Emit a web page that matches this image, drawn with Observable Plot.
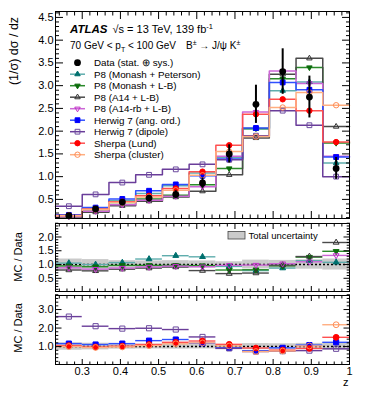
<!DOCTYPE html>
<html><head><meta charset="utf-8">
<script src="https://cdn.jsdelivr.net/npm/d3@7"></script>
<script src="https://cdn.jsdelivr.net/npm/@observablehq/plot@0.6"></script>
<style>
html,body{margin:0;padding:0;background:#fff;}
#wrap{position:relative;width:368px;height:394px;overflow:hidden;background:#fff;font-family:"Liberation Sans",Arial,Helvetica,sans-serif;color:#000;}
#wrap svg{position:absolute;left:0;overflow:visible;}
.ytitle{position:absolute;white-space:nowrap;transform:translate(-50%,-50%) rotate(-90deg);line-height:1;}
</style></head><body><div id="wrap"></div>
<script>
// ---------------- data ----------------
const binEdges   = [0.23,0.30,0.37,0.44,0.51,0.58,0.65,0.72,0.79,0.86,0.93,1.00];
const binCenters = [0.265,0.335,0.405,0.475,0.545,0.615,0.685,0.755,0.825,0.895,0.965];

const dataValues = [0.14,0.29,0.44,0.53,0.61,0.86,1.50,2.59,3.31,2.75,1.18];
const dataErrors = [0.03,0.04,0.05,0.06,0.08,0.11,0.20,0.42,0.50,0.46,0.24];

const p8MonashPeterson = [0.15,0.29,0.47,0.63,0.80,1.08,1.42,2.05,2.89,3.08,1.30];
const p8MonashLB       = [0.135,0.27,0.43,0.51,0.59,0.82,1.18,2.06,3.15,3.40,1.74];
const p8A14LB          = [0.115,0.22,0.36,0.46,0.55,0.68,1.04,1.85,3.25,3.60,2.10];
const p8A14rbLB        = [0.125,0.24,0.38,0.48,0.57,0.78,1.45,2.42,3.32,3.05,1.45];
const herwigAngOrd     = [0.16,0.32,0.51,0.69,0.83,1.02,1.39,2.07,3.07,2.91,1.43];
const herwigDipole     = [0.35,0.61,0.87,1.04,1.16,1.27,1.37,1.90,2.45,2.13,1.00];
const sherpaLund       = [0.145,0.29,0.45,0.58,0.74,1.11,1.69,2.37,2.70,2.45,1.76];
const sherpaCluster    = [0.14,0.28,0.43,0.55,0.70,1.03,1.55,1.88,2.52,2.85,2.57];

// MC / Data ratios as drawn in the lower panels
const rP8MonashPeterson = [1.05,1.00,1.07,1.20,1.32,1.28,0.93,0.78,0.87,1.14,1.08];
const rP8MonashLB       = [0.95,0.92,0.97,0.97,0.97,0.96,0.80,0.81,0.95,1.27,1.48];
const rP8A14LB          = [0.80,0.77,0.83,0.87,0.91,0.78,0.67,0.69,0.98,1.29,1.80];
const rP8A14rbLB        = [0.88,0.83,0.87,0.91,0.94,0.92,0.97,0.98,1.03,1.10,1.33];
const rHerwigAngOrd     = [1.16,1.11,1.16,1.32,1.38,1.18,0.93,0.78,0.93,1.08,1.23];
const rHerwigDipole     = [2.62,2.10,1.97,1.99,1.92,1.52,0.90,0.73,0.75,0.78,0.88];
const rSherpaLund       = [1.05,0.98,1.02,1.11,1.23,1.30,1.12,0.92,0.81,0.90,1.50];
const rSherpaCluster    = [1.00,0.95,0.98,1.05,1.15,1.20,1.03,0.73,0.76,1.03,2.18];
const totalUncertainty  = [0.20,0.18,0.14,0.13,0.14,0.13,0.10,0.16,0.15,0.17,0.20];

const seriesNames = ["P8 (Monash + Peterson)","P8 (Monash + L-B)","P8 (A14 + L-B)","P8 (A14-rb + L-B)",
                     "Herwig 7 (ang. ord.)","Herwig 7 (dipole)","Sherpa (Lund)","Sherpa (cluster)"];
const xTickValues   = [0.3,0.4,0.5,0.6,0.7,0.8,0.9,1];
const topYTicks     = [0.5,1,1.5,2,2.5,3,3.5,4,4.5];
const midYTicks     = [0.5,1,1.5,2];
const lowYTicks     = [1,2,3];

// ---------------- styles ----------------
const FONT = '"Liberation Sans", Arial, Helvetica, sans-serif';
const seriesValues = [p8MonashPeterson,p8MonashLB,p8A14LB,p8A14rbLB,herwigAngOrd,herwigDipole,sherpaLund,sherpaCluster];
const seriesRatios = [rP8MonashPeterson,rP8MonashLB,rP8A14LB,rP8A14rbLB,rHerwigAngOrd,rHerwigDipole,rSherpaLund,rSherpaCluster];
const seriesStyle = [
  {symbol:"triangle", filled:true,  rotate:0,   color:"#00706e", line:"#5fadad"},
  {symbol:"triangle", filled:true,  rotate:180, color:"#0b6b0b", line:"#2a8a2a"},
  {symbol:"triangle", filled:false, rotate:0,   color:"#333333", line:"#4a4a4a"},
  {symbol:"triangle", filled:false, rotate:180, color:"#c030c8", line:"#cc66d6"},
  {symbol:"square",   filled:true,  rotate:0,   color:"#0000ff", line:"#3050ff"},
  {symbol:"square",   filled:false, rotate:0,   color:"#6b4a9e", line:"#6a3d9a"},
  {symbol:"circle",   filled:true,  rotate:0,   color:"#ff0000", line:"#ff5050"},
  {symbol:"circle",   filled:false, rotate:0,   color:"#ff8c55", line:"#ffae80"}
];
const series = seriesNames.map((name,i) => ({name, values: seriesValues[i], ratios: seriesRatios[i], ...seriesStyle[i]}));
const markerR = (s, base) => s.symbol === "triangle" ? base * 0.75 : base;

const W = 368, ML = 55, MR = 19;
const xDomain = [binEdges[0], binEdges[binEdges.length-1]];

function stepData(vals){
  const pts = vals.map((v,i) => ({x: binEdges[i], y: v}));
  pts.push({x: binEdges[binEdges.length-1], y: vals[vals.length-1]});
  return pts;
}
function pointData(vals){
  return vals.map((v,i) => ({x: binCenters[i], y: v, lo: binEdges[i], hi: binEdges[i+1]}));
}
function minorTicks(major, step, lo, hi){
  return d3.range(Math.round(lo/step), Math.round(hi/step)+1)
    .map(i => +(i*step).toFixed(4))
    .filter(v => !major.some(m => Math.abs(m-v) < 1e-6));
}
const xMinor = minorTicks(xTickValues, 0.02, 0.24, 0.98);

function frameTicks(yMajor, yMinor, yMaj, yMin, xMaj, xMin){
  const none = () => "";
  const c = {label: null, tickFormat: none, stroke: "#000"};
  return [
    Plot.axisY({...c, anchor:"left",  ticks: yMajor, tickSize: yMaj, insetLeft: yMaj}),
    Plot.axisY({...c, anchor:"left",  ticks: yMinor, tickSize: yMin, insetLeft: yMin}),
    Plot.axisY({...c, anchor:"right", ticks: yMajor, tickSize: yMaj, insetRight: yMaj}),
    Plot.axisY({...c, anchor:"right", ticks: yMinor, tickSize: yMin, insetRight: yMin}),
    Plot.axisX({...c, anchor:"bottom", ticks: xTickValues, tickSize: xMaj, insetBottom: xMaj}),
    Plot.axisX({...c, anchor:"bottom", ticks: xMinor, tickSize: xMin, insetBottom: xMin}),
    Plot.axisX({...c, anchor:"top", ticks: xTickValues, tickSize: xMaj, insetTop: xMaj}),
    Plot.axisX({...c, anchor:"top", ticks: xMinor, tickSize: xMin, insetTop: xMin}),
    Plot.axisY({anchor:"left", ticks: yMajor, tickSize: 0, tickPadding: 2, label: null, fontSize: 11}),
    Plot.frame({stroke: "#000", strokeWidth: 1})
  ];
}
function cleanup(svg){
  d3.select(svg).selectAll("text").filter(function(){ return this.textContent === ""; }).remove();
  return svg;
}
const plotStyle = {fontFamily: FONT, fontSize: "11px", background: "transparent", color: "#000"};

// ---------------- top panel ----------------
const topMarks = [];
series.forEach(s => topMarks.push(Plot.line(stepData(s.values), {x:"x", y:"y", curve:"step-after", stroke: s.line, strokeWidth: 1.5})));
series.forEach(s => topMarks.push(Plot.dot(pointData(s.values), {x:"x", y:"y", symbol: s.symbol, r: markerR(s, 2.7), rotate: s.rotate,
  fill: s.filled ? s.color : "none", stroke: s.color, strokeWidth: 1})));
const dataPts = dataValues.map((v,i) => ({x: binCenters[i], y: v, y1: v - dataErrors[i], y2: v + dataErrors[i]}));
topMarks.push(Plot.ruleX(dataPts, {x:"x", y1:"y1", y2:"y2", stroke:"#000", strokeWidth: 2}));
topMarks.push(Plot.dot(dataPts, {x:"x", y:"y", r: 3.4, fill:"#000", stroke:"none"}));

const topPlot = cleanup(Plot.plot({
  width: W, height: 222, marginLeft: ML, marginRight: MR, marginTop: 11, marginBottom: 4,
  x: {domain: xDomain, label: null}, y: {domain: [0.08, 4.63], label: null},
  style: plotStyle,
  marks: [...topMarks, ...frameTicks(topYTicks, minorTicks(topYTicks, 0.1, 0.1, 4.6), 8, 4, 7, 3.5)]
}));
topPlot.style.top = "0px";
document.getElementById("wrap").appendChild(topPlot);

// ---------------- ratio panels ----------------
function ratioPlot(list, domain, yTicks, yMinorStep, top, height, marginBottom, showX){
  const marks = [];
  const band = totalUncertainty.map((u,i) => ({lo: binEdges[i], hi: binEdges[i+1], y1: 1-u, y2: 1+u}));
  marks.push(Plot.rectY(band, {x1:"lo", x2:"hi", y1:"y1", y2:"y2", fill:"#cacaca", stroke:"none"}));
  marks.push(Plot.ruleY([1], {stroke:"#000", strokeWidth: 1.6, strokeDasharray: "2,2"}));
  list.forEach(s => marks.push(Plot.ruleY(pointData(s.ratios), {y:"y", x1:"lo", x2:"hi", stroke: s.line, strokeWidth: 1.4})));
  list.forEach(s => marks.push(Plot.dot(pointData(s.ratios), {x:"x", y:"y", symbol: s.symbol, r: markerR(s, 2.9), rotate: s.rotate,
    fill: s.filled ? s.color : "none", stroke: s.color, strokeWidth: 1})));
  marks.push(...frameTicks(yTicks, minorTicks(yTicks, yMinorStep, yMinorStep, domain[1]), 6.5, 3.3, 5, 2.5));
  if (showX) marks.push(Plot.axisX({anchor:"bottom", ticks: xTickValues, tickSize: 0, tickPadding: 3, label: null, fontSize: 11,
    tickFormat: d => d === 1 ? "1" : d3.format(".1f")(d)}));
  const p = cleanup(Plot.plot({
    width: W, height, marginLeft: ML, marginRight: MR, marginTop: 4, marginBottom,
    x: {domain: xDomain, label: null}, y: {domain, label: null},
    style: plotStyle, marks
  }));
  p.style.top = top + "px";
  document.getElementById("wrap").appendChild(p);
  return p;
}
const midPlot = ratioPlot(series.slice(0,4), [0.02, 2.49], midYTicks, 0.1, 219, 76, 4, false);
const lowPlot = ratioPlot(series.slice(4), [0.03, 3.76], lowYTicks, 0.2, 291, 103, 30, true);

// ---------------- annotations ----------------
const ts = d3.select(topPlot).append("g").attr("font-family", FONT).attr("fill", "#000").attr("text-anchor", "start");
const l1 = ts.append("text").attr("x", 70).attr("y", 33).attr("font-size", 11.5);
l1.append("tspan").attr("font-weight", "bold").attr("font-style", "italic").text("ATLAS");
l1.append("tspan").attr("dx", 5).attr("font-size", 11).text("√s = 13 TeV, 139 fb");
l1.append("tspan").attr("dy", -4).attr("font-size", 7.5).text("-1");
const l2 = ts.append("text").attr("x", 70).attr("y", 48.5).attr("font-size", 10);
l2.append("tspan").text("70 GeV < p");
l2.append("tspan").attr("dy", 3).attr("font-size", 7).text("T");
l2.append("tspan").attr("dy", -3).text(" < 100 GeV");
const l3 = ts.append("text").attr("x", 186).attr("y", 48.5).attr("font-size", 10);
l3.append("tspan").text("B");
l3.append("tspan").attr("dy", -4).attr("font-size", 7).text("±");
l3.append("tspan").attr("dy", 4).text(" → J/ψ K");
l3.append("tspan").attr("dy", -4).attr("font-size", 7).text("±");

// legend
const legendNames = ["Data (stat. ⊕ sys.)", ...seriesNames];
const lg = ts.append("g");
legendNames.forEach((name, i) => {
  const cy = 62.7 + i * 11.5;
  const g = lg.append("g");
  if (i === 0) {
    g.append("circle").attr("cx", 77.5).attr("cy", cy).attr("r", 3.4).attr("fill", "#000");
  } else {
    const s = series[i-1];
    g.append("line").attr("x1", 70).attr("x2", 85).attr("y1", cy).attr("y2", cy).attr("stroke", s.line).attr("stroke-width", 1.5);
    const sym = {triangle: d3.symbolTriangle, square: d3.symbolSquare, circle: d3.symbolCircle}[s.symbol];
    const r = markerR(s, 2.7);
    g.append("path").attr("d", d3.symbol(sym, Math.PI * r * r)())
      .attr("transform", `translate(77.5,${cy}) rotate(${s.rotate})`)
      .attr("fill", s.filled ? s.color : "none").attr("stroke", s.color).attr("stroke-width", 1);
  }
  g.append("text").attr("x", 94).attr("y", cy).attr("dy", "0.35em").attr("font-size", 9.8).text(name);
});

// "Total uncertainty" legend in middle panel
const ms = d3.select(midPlot).append("g").attr("font-family", FONT).attr("text-anchor", "start");
ms.append("rect").attr("x", 228).attr("y", 12.5).attr("width", 17).attr("height", 7.5)
  .attr("fill", "#cacaca").attr("stroke", "#444").attr("stroke-width", 0.8);
ms.append("text").attr("x", 248.5).attr("y", 16.5).attr("dy", "0.35em").attr("font-size", 9.5).attr("fill", "#000").text("Total uncertainty");

// axis titles
const wrap = document.getElementById("wrap");
function addTitle(text, x, y, size){
  const d = document.createElement("div");
  d.className = "ytitle"; d.style.left = x + "px"; d.style.top = y + "px"; d.style.fontSize = size + "px";
  d.textContent = text; wrap.appendChild(d);
}
addTitle("(1/σ) dσ / dz", 14, 51, 12.5);
addTitle("MC / Data", 18, 256.5, 11);
addTitle("MC / Data", 18, 328, 11);
const z = document.createElement("div");
z.textContent = "z";
z.style.cssText = "position:absolute;left:343px;top:377px;font-size:11px;line-height:1;";
wrap.appendChild(z);
</script></body></html>
